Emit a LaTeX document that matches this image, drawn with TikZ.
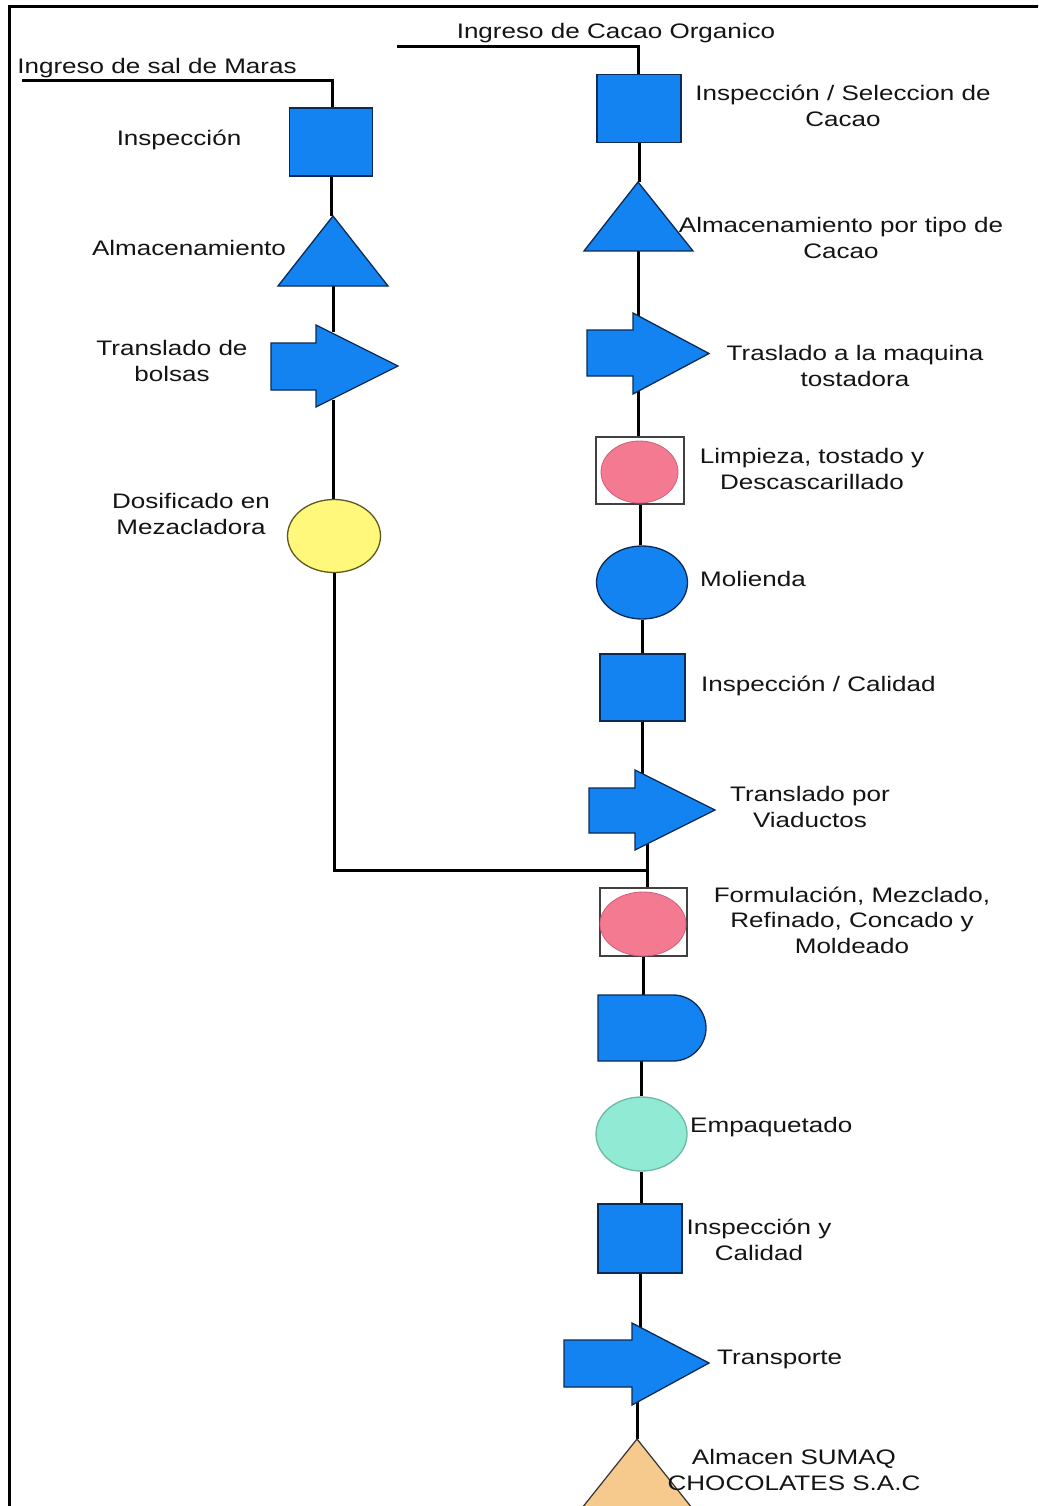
\documentclass[tikz,border=0pt]{standalone}
\usepackage{fontspec}
\setmainfont{Liberation Sans}[FakeStretch=1.24]
\usetikzlibrary{shapes.geometric}
\definecolor{procblue}{HTML}{1283F0}
\definecolor{edgeblue}{HTML}{0B2A55}
\definecolor{pinkfill}{HTML}{F37A90}
\definecolor{pinkedge}{HTML}{D0607A}
\definecolor{yelfill}{HTML}{FFF87A}
\definecolor{yeledge}{HTML}{5E5720}
\definecolor{tealfill}{HTML}{90EAD4}
\definecolor{tealedge}{HTML}{6CB9A4}
\definecolor{tanfill}{HTML}{F6C98C}
\definecolor{textcol}{HTML}{141414}
\pgfdeclarelayer{back}
\pgfdeclarelayer{bg}
\pgfsetlayers{back,bg,main}
\begin{document}
\begin{tikzpicture}[x=1pt,y=-1pt,
  conn/.style={line width=3pt,black},
  frame/.style={line width=3pt,black},
  bluebox/.style={rectangle,draw=edgeblue,line width=1.3pt,fill=procblue,inner sep=0,minimum width=84pt,minimum height=68pt},
  opbox/.style={rectangle,draw=black!75,line width=1.4pt,fill=white,inner sep=0,minimum width=87pt,minimum height=67pt},
  opell/.style={ellipse,draw=pinkedge,line width=0.8pt,fill=pinkfill,inner sep=0},
  ovl/.style={ellipse,line width=1.3pt,inner sep=0,minimum width=92pt,minimum height=74pt},
  blueshape/.style={draw=edgeblue,line width=1.3pt,fill=procblue},
  lbl/.style={font=\fontsize{21}{25.5}\selectfont,align=center,text=textcol,inner sep=0}]
\begin{pgfonlayer}{back}
\fill[white] (0,0) rectangle (1038,1506);
\end{pgfonlayer}
\useasboundingbox (0,0) rectangle (1038,1506);
\clip (0,0) rectangle (1038,1506);
% frame
\draw[frame] (9,1510) -- (9,7) -- (1040,7);

% ---------- left column ----------
\coordinate (salA) at (22,81);
\coordinate (salB) at (332,81);
\node[bluebox,minimum width=83pt] (li1) at (331,142) {};
\coordinate (lt1top) at (333,216);
\coordinate (lt1bot) at (333,286);
\path[blueshape] (lt1top) -- (388,286) -- (278,286) -- cycle;
\coordinate (la1top) at (333,332);
\coordinate (la1bot) at (333,400);
\path[blueshape] (271,343) -- (316,343) -- (316,325) -- (398,366) -- (316,407) -- (316,390) -- (271,390) -- cycle;
\node[ovl,draw=yeledge,fill=yelfill,minimum width=93pt,minimum height=73pt] (dos) at (334,536) {};

% ---------- right column ----------
\coordinate (cacA) at (397,47);
\coordinate (cacB) at (638,47);
\node[bluebox] (ri1) at (639,108.5) {};
\coordinate (rt1top) at (638,182);
\coordinate (rt1bot) at (638,251);
\path[blueshape] (rt1top) -- (693,251) -- (584,251) -- cycle;
\coordinate (ra1top) at (638,320);
\coordinate (ra1bot) at (638,388);
\path[blueshape] (587,330) -- (633,330) -- (633,313) -- (709,353.5) -- (633,394) -- (633,376) -- (587,376) -- cycle;
\node[opbox,minimum width=88pt] (limb) at (640,470.5) {};
\node[opell,minimum width=77pt,minimum height=62pt] (limc) at (639.5,472) {};
\node[ovl,draw=edgeblue,fill=procblue,minimum width=91pt,minimum height=73pt] (mol) at (642,582.5) {};
\node[bluebox,minimum width=85pt,minimum height=67pt] (ri2) at (642.5,687.5) {};
\coordinate (ra2top) at (643,780);
\coordinate (ra2bot) at (647,842);
\path[blueshape] (589,788) -- (635,788) -- (635,770) -- (715,810) -- (635,850) -- (635,833) -- (589,833) -- cycle;
\coordinate (junc) at (647,870);
\node[opbox,minimum width=87pt,minimum height=68pt] (formb) at (643.5,922) {};
\node[opell,minimum width=86pt,minimum height=64pt] (formc) at (643,924) {};
\coordinate (dtop) at (641,995);
\coordinate (dbot) at (641,1061);
\path[blueshape] (598,995) -- (673,995) arc[start angle=-90,end angle=90,radius=33] -- (598,1061) -- cycle;
\node[ovl,draw=tealedge,fill=tealfill,minimum width=91pt,minimum height=74pt] (pack) at (641.5,1134) {};
\node[bluebox,minimum width=84pt,minimum height=69pt] (ri3) at (640,1238.5) {};
\coordinate (ra3top) at (639,1330);
\coordinate (ra3bot) at (637,1398);
\path[blueshape] (564,1340) -- (632,1340) -- (632,1323) -- (709,1363) -- (632,1405) -- (632,1387) -- (564,1387) -- cycle;
\coordinate (rt2top) at (637,1439);
\path[draw=black!80,line width=1.2pt,fill=tanfill] (rt2top) -- (700,1518) -- (574,1518) -- cycle;

% ---------- connectors (behind shapes) ----------
\begin{pgfonlayer}{bg}
\draw[conn] (salA) -- (salB) -- (salB |- li1.north);
\draw[conn] (li1.south) -- (li1.south |- lt1top);
\draw[conn] (lt1bot) -- (la1top);
\draw[conn] (la1bot) -- (la1bot |- dos.north);
\draw[conn] (dos.south) |- (junc);
\draw[conn] (cacA) -- (cacB) -- (cacB |- ri1.north);
\draw[conn] (ri1.south) -- (ri1.south |- rt1top);
\draw[conn] (rt1bot) -- (ra1top);
\draw[conn] (ra1bot) -- (ra1bot |- limb.north);
\draw[conn] (limb.south) -- (limb.south |- mol.north);
\draw[conn] (mol.south) -- (mol.south |- ri2.north);
\draw[conn] (ri2.south) -- (ri2.south |- ra2top);
\draw[conn] (ra2bot) -- (junc) -- (junc |- formb.north);
\draw[conn] (formb.south) -- (formb.south |- dtop);
\draw[conn] (dbot) -- (dbot |- pack.north);
\draw[conn] (pack.south) -- (pack.south |- ri3.north);
\draw[conn] (ri3.south) -- (ri3.south |- ra3top);
\draw[conn] (ra3bot) -- (rt2top);
\end{pgfonlayer}

% ---------- labels ----------
\node[lbl] (tsal) at (157,68) {Ingreso de sal de Maras};
\node[lbl] (tcac) at (616,33) {Ingreso de Cacao Organico};
\node[lbl] (t1) at (179,140) {Inspección};
\node[lbl] (t2) at (189,248) {Almacenamiento};
\node[lbl] (t3) at (172,361) {Translado de\\bolsas};
\node[lbl] (t4) at (191,514) {Dosificado en\\Mezacladora};
\node[lbl] (t5) at (843,106) {Inspección / Seleccion de\\Cacao};
\node[lbl] (t6) at (841,238) {Almacenamiento por tipo de\\Cacao};
\node[lbl] (t7) at (855,366) {Traslado a la maquina\\tostadora};
\node[lbl] (t8) at (812,469) {Limpieza, tostado y\\Descascarillado};
\node[lbl,anchor=west] (t9) at (700,579) {Molienda};
\node[lbl,anchor=west] (t10) at (701,686) {Inspección / Calidad};
\node[lbl] (t11) at (810,807) {Translado por\\Viaductos};
\node[lbl] (t12) at (852,920) {Formulación, Mezclado,\\Refinado, Concado y\\Moldeado};
\node[lbl,anchor=west] (t13) at (690,1127) {Empaquetado};
\node[lbl] (t14) at (759,1240) {Inspección y\\Calidad};
\node[lbl,anchor=west] (t15) at (717,1359) {Transporte};
\node[lbl] (t16) at (794,1470) {Almacen SUMAQ\\CHOCOLATES S.A.C};
\end{tikzpicture}
\end{document}
